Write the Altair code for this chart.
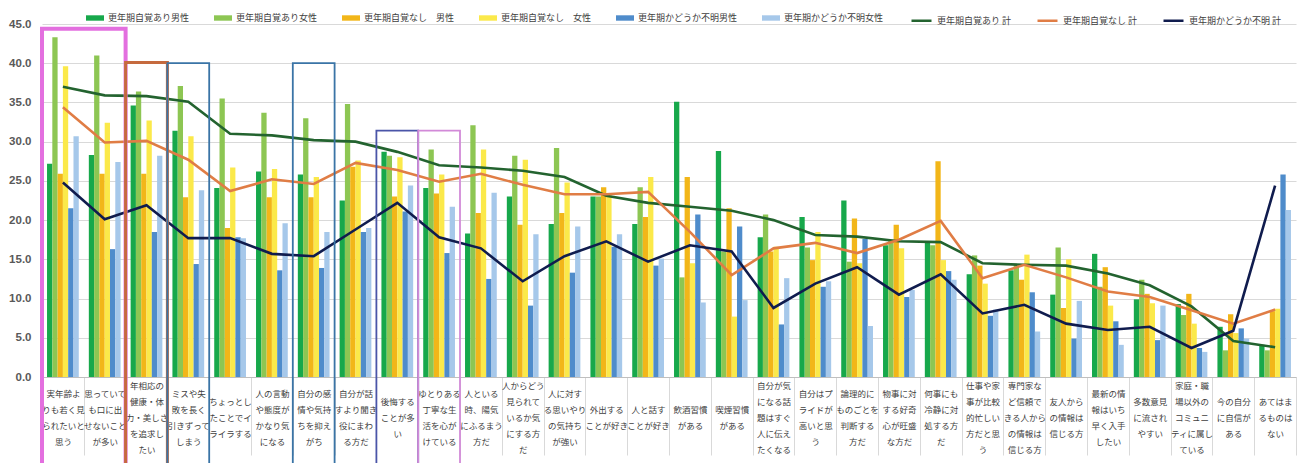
import altair as alt
import pandas as pd

cats = [
    "実年齢よ/りも若く見/られたいと/思う",
    "思っていて/も口に出/せないこと/が多い",
    "年相応の/健康・体/力・美しさ/を追求し/たい",
    "ミスや失/敗を長く/引きずって/しまう",
    "ちょっとし/たことでイ/ライラする",
    "人の言動/や態度が/かなり気/になる",
    "自分の感/情や気持/ちを抑え/がち",
    "自分が話/すより聞き/役にまわ/る方だ",
    "後悔する/ことが多/い",
    "ゆとりある/丁寧な生/活を心が/けている",
    "人といる/時、陽気/にふるまう/方だ",
    "人からどう/見られて/いるか気/にする方/だ",
    "人に対す/る思いやり/の気持ち/が強い",
    "外出する/ことが好き",
    "人と話す/ことが好き",
    "飲酒習慣/がある",
    "喫煙習慣/がある",
    "自分が気/になる話/題はすぐ/人に伝え/たくなる",
    "自分はプ/ライドが/高いと思/う",
    "論理的に/ものごとを/判断する/方だ",
    "物事に対/する好奇/心が旺盛/な方だ",
    "何事にも/冷静に対/処する方/だ",
    "仕事や家/事が比較/的忙しい/方だと思/う",
    "専門家な/ど信頼で/きる人から/の情報は/信じる方",
    "友人から/の情報は/信じる方",
    "最新の情/報はいち/早く入手/したい",
    "多数意見/に流され/やすい",
    "家庭・職/場以外の/コミュニ/ティに属し/ている",
    "今の自分/に自信が/ある",
    "あてはま/るものは/ない",
]

bar_series = ["更年期自覚あり男性", "更年期自覚あり女性", "更年期自覚なし　男性",
              "更年期自覚なし　女性", "更年期かどうか不明男性", "更年期かどうか不明女性"]
line_series = ["更年期自覚あり 計", "更年期自覚なし 計", "更年期かどうか不明 計"]

aware_m = [27.2, 28.3, 34.6, 31.4, 24.1, 26.2, 25.8, 22.5, 28.7, 24.1, 18.3, 23.0, 19.5, 23.0, 19.5,
           35.1, 28.8, 17.8, 20.4, 22.5, 16.8, 17.2, 13.1, 13.6, 10.5, 15.7, 9.9, 9.3, 6.4, 4.1]
aware_f = [43.3, 41.0, 36.4, 37.1, 35.5, 33.7, 33.0, 34.8, 28.2, 29.0, 32.1, 28.2, 29.2, 23.0, 24.2,
           12.7, 16.0, 20.7, 16.5, 14.7, 17.5, 16.8, 15.5, 14.3, 16.5, 11.5, 12.4, 7.9, 3.4, 3.4]
none_m = [25.9, 25.9, 25.9, 22.9, 19.0, 22.9, 22.9, 26.8, 23.0, 23.4, 20.9, 19.4, 20.9, 24.2, 20.4,
          25.5, 21.5, 16.0, 14.9, 20.2, 19.4, 27.5, 14.2, 12.4, 8.8, 14.0, 10.6, 10.6, 8.0, 8.4]
none_f = [39.6, 32.4, 32.7, 30.7, 26.7, 26.5, 25.5, 27.6, 28.0, 25.8, 29.0, 27.7, 24.8, 23.2, 25.5,
          14.5, 7.7, 16.6, 18.5, 14.5, 16.4, 14.9, 11.9, 15.6, 15.0, 9.1, 9.4, 6.8, 5.6, 8.7]
unk_m = [21.5, 16.3, 18.5, 14.4, 17.8, 13.6, 13.9, 18.5, 21.1, 15.8, 12.5, 9.1, 13.3, 16.6, 14.2,
         20.7, 19.2, 6.7, 11.5, 17.6, 10.2, 13.5, 7.8, 10.8, 4.9, 7.1, 4.7, 3.7, 6.2, 25.8]
unk_f = [30.7, 27.4, 28.2, 23.8, 17.7, 19.6, 18.5, 19.0, 24.4, 21.7, 23.5, 18.2, 19.2, 18.2, 15.1,
         9.5, 9.8, 12.6, 12.2, 6.5, 11.1, 12.4, 8.6, 5.8, 9.7, 4.1, 9.1, 3.2, 4.9, 21.3]

aware_t = [37.0, 35.9, 35.8, 35.1, 31.0, 30.8, 30.2, 30.0, 28.7, 27.0, 26.7, 26.3, 25.5, 23.1, 22.2,
           21.7, 21.2, 20.0, 18.1, 17.9, 17.3, 17.2, 14.5, 14.3, 14.2, 13.2, 11.7, 9.0, 4.6, 3.8]
none_t = [34.4, 29.9, 30.1, 27.7, 23.7, 25.2, 24.6, 27.3, 26.4, 24.9, 25.9, 24.5, 23.3, 23.3, 23.6,
          18.5, 13.0, 16.4, 17.1, 15.8, 17.5, 19.9, 12.6, 14.3, 12.7, 10.9, 10.2, 8.5, 6.8, 8.6]
unk_t = [24.8, 20.1, 21.9, 17.7, 17.7, 15.7, 15.4, 18.8, 22.2, 17.8, 16.4, 12.2, 15.4, 17.3, 14.7,
         16.8, 16.0, 8.8, 11.9, 14.0, 10.5, 13.1, 8.1, 9.2, 6.8, 6.0, 6.4, 3.7, 5.9, 24.4]

y_ticks = [0, 5, 10, 15, 20, 25, 30, 35, 40, 45]

# highlight boxes: first category index, last category index (inclusive), top value
box_ids = ["b1", "b2", "b3", "b4", "b5", "b6"]
box_first = [0, 2, 3, 6, 8, 9]
box_last = [1, 2, 3, 6, 8, 9]
box_top = [44.4, 40.1, 40.0, 40.0, 31.4, 31.4]

bar_colors = ["#17a84b", "#8dc653", "#f2b619", "#fbe94a", "#4f8ccb", "#a6c8ea"]
line_colors = ["#23632f", "#e07d45", "#101c4e"]
box_colors = ["#e36fdf", "#c56a3e", "#3a74a6", "#3a74a6", "#4a55a8", "#d28ad8"]
box_widths = [4, 3, 1.8, 1.8, 1.8, 1.8]

JP = "Noto Sans CJK JP"

bar_vals = [aware_m, aware_f, none_m, none_f, unk_m, unk_f]
bars_df = pd.DataFrame([
    {"cat": c, "series": s, "value": v[i]}
    for s, v in zip(bar_series, bar_vals)
    for i, c in enumerate(cats)
])
line_vals = [aware_t, none_t, unk_t]
lines_df = pd.DataFrame([
    {"cat": c, "series": s, "value": v[i], "i": i}
    for s, v in zip(line_series, line_vals)
    for i, c in enumerate(cats)
])
boxes_df = pd.DataFrame({
    "box": box_ids,
    "s": box_first,
    "e": [b + 1 for b in box_last],
    "top": box_top,
    "w": box_widths,
})

W, H = 1254, 353

# multi-line labels, vertically centred: invisible (zero-width) half-lines between and before lines
ZW = "\u200b"
label_expr = (
    f"split(slice('{ZW}/{ZW}/{ZW}/{ZW}/{ZW}/', 0, 2 * (5 - length(split(datum.label, '/')))) + "
    f"join(split(datum.label, '/'), '/{ZW}/'), '/')"
)

x_scale = alt.Scale(domain=cats, paddingInner=0, paddingOuter=0)
x_axis = alt.Axis(
    title=None, labelExpr=label_expr, labelAngle=0,
    labelFont=JP, labelFontSize=8.5, labelLineHeight=8, labelColor="#404040",
    labelBaseline="top", labelAlign="center", labelPadding=-74,
    tickBand="extent", tickSize=78, tickColor="#d9d9d9", tickWidth=1,
    domainColor="#bfbfbf", labelOverlap=False, labelLimit=200, grid=False,
)
y_scale = alt.Scale(domain=[0, 45], nice=False, zero=True)
y_axis = alt.Axis(
    title=None, values=y_ticks, format=".1f", labelFont="Liberation Sans",
    labelFontWeight="bold", labelFontSize=11.5, labelColor="#595959",
    labelPadding=11, domain=False, ticks=False, grid=True, gridColor="#d9d9d9",
)

bars = alt.Chart(bars_df).mark_bar().encode(
    x=alt.X("cat:N", scale=x_scale, axis=x_axis),
    xOffset=alt.XOffset("series:N", scale=alt.Scale(domain=bar_series, paddingInner=0, paddingOuter=0.95)),
    y=alt.Y("value:Q", scale=y_scale, axis=y_axis),
    fill=alt.Fill("series:N", scale=alt.Scale(domain=bar_series, range=bar_colors),
                  legend=alt.Legend(title=None, orient="none", legendX=44, legendY=-15,
                                    direction="horizontal", columns=6,
                                    symbolType="M-1,-0.3H1V0.3H-1Z", symbolSize=324,
                                    symbolStrokeWidth=0, labelFont=JP, labelFontSize=9,
                                    labelColor="#404040", columnPadding=24, labelOffset=4,
                                    padding=0)),
)

lines = alt.Chart(lines_df).mark_line(strokeWidth=2.6).encode(
    x=alt.X("cat:N", scale=x_scale, axis=x_axis),
    y=alt.Y("value:Q", scale=y_scale, axis=y_axis),
    order=alt.Order("i:Q"),
    stroke=alt.Stroke("series:N", scale=alt.Scale(domain=line_series, range=line_colors),
                      legend=alt.Legend(title=None, orient="none", legendX=868, legendY=-15,
                                        direction="horizontal", columns=3,
                                        symbolType="stroke", symbolSize=400,
                                        symbolStrokeWidth=2.5, labelFont=JP, labelFontSize=9,
                                        labelColor="#404040", columnPadding=20, labelOffset=4,
                                        padding=0)),
)

rects = alt.Chart(boxes_df).mark_rect(fillOpacity=0).encode(
    x=alt.X("s:Q", scale=alt.Scale(domain=[0, len(cats)], nice=False, zero=False), axis=None),
    x2="e:Q",
    y=alt.Y("top:Q", scale=y_scale, axis=y_axis),
    y2=alt.value(470),
    stroke=alt.Stroke("box:N", scale=alt.Scale(domain=box_ids, range=box_colors), legend=None),
    strokeWidth=alt.StrokeWidth("w:Q", scale=None),
)

chart = alt.layer(alt.layer(bars, lines), rects).resolve_scale(
    x="independent", stroke="independent"
).properties(
    width=W, height=H,
    autosize=alt.AutoSizeParams(type="none"),
    padding={"left": 34, "top": 16, "right": 2, "bottom": 86},
    background="white",
).configure_view(strokeWidth=0)

chart.save("out.html", embed_options={"renderer": "svg", "actions": False})
